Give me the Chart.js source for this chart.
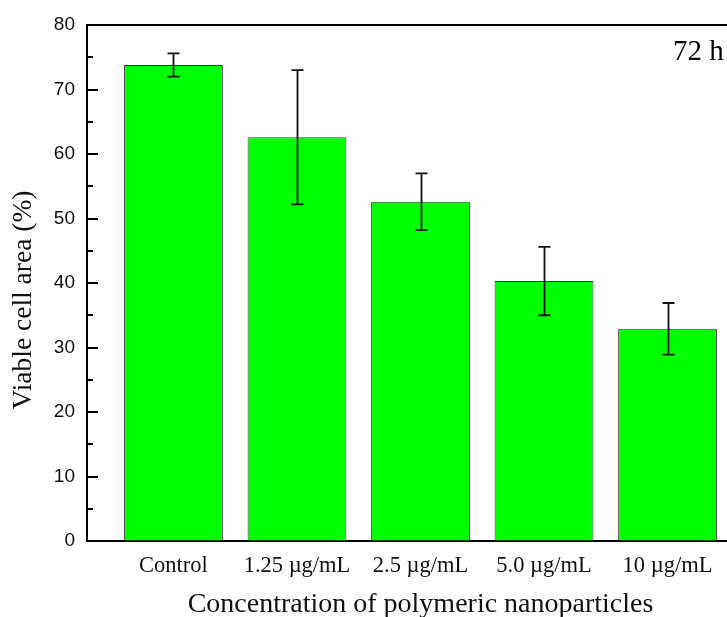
<!DOCTYPE html>
<html>
<head>
<meta charset="utf-8">
<script src="https://cdn.jsdelivr.net/npm/chart.js@4.4.1/dist/chart.umd.min.js"></script>
<style>
  html, body { margin: 0; padding: 0; background: #fff; overflow: hidden; }
  #wrap { position: relative; width: 760px; height: 617px; }
</style>
</head>
<body>
<div id="wrap"><canvas id="chart"></canvas></div>
<script>
// ----- Data -----
const categories = ["Control", "1.25 \u00b5g/mL", "2.5 \u00b5g/mL", "5.0 \u00b5g/mL", "10 \u00b5g/mL"];
const viableArea = [73.8, 62.6, 52.6, 40.3, 32.9];
const errors = [1.8, 10.4, 4.4, 5.3, 4.0];
const yTicks = [0, 10, 20, 30, 40, 50, 60, 70, 80];
const timeLabel = "72 h";

const serif = "'Liberation Serif', 'Times New Roman', serif";
const sans = "'Liberation Sans', Arial, sans-serif";

// ----- Plugins -----
// top frame line + inward tick marks on the y axis
const frameTicks = {
  id: "frameTicks",
  afterDraw(chart) {
    const { ctx, chartArea, scales } = chart;
    ctx.save();
    ctx.strokeStyle = "#000";
    ctx.lineWidth = 2;
    ctx.beginPath();
    ctx.moveTo(chartArea.left - 1, chartArea.top);
    ctx.lineTo(chartArea.right + 20, chartArea.top);
    ctx.stroke();
    scales.y.ticks.forEach((t) => {
      const y = Math.round(scales.y.getPixelForValue(t.value));
      const len = t.value % 10 === 0 ? 11 : 6;
      ctx.beginPath();
      ctx.moveTo(chartArea.left, y);
      ctx.lineTo(chartArea.left + len, y);
      ctx.stroke();
    });
    ctx.restore();
  },
};

// error bars
const errorBars = {
  id: "errorBars",
  afterDatasetsDraw(chart) {
    const { ctx, scales } = chart;
    ctx.save();
    ctx.strokeStyle = "#111";
    ctx.lineWidth = 1.8;
    viableArea.forEach((v, i) => {
      const x = Math.round(scales.x.getPixelForValue(i)) + 0.5;
      const yHi = scales.y.getPixelForValue(v + errors[i]);
      const yLo = scales.y.getPixelForValue(v - errors[i]);
      ctx.beginPath();
      ctx.moveTo(x, yHi);
      ctx.lineTo(x, yLo);
      ctx.moveTo(x - 6, yHi);
      ctx.lineTo(x + 6, yHi);
      ctx.moveTo(x - 6, yLo);
      ctx.lineTo(x + 6, yLo);
      ctx.stroke();
    });
    ctx.restore();
  },
};

// y title and time label
const labels = {
  id: "labels",
  afterDraw(chart) {
    const { ctx, chartArea } = chart;
    ctx.save();
    ctx.fillStyle = "#111";
    ctx.font = "27.5px " + serif;
    ctx.textAlign = "center";
    ctx.textBaseline = "middle";
    ctx.translate(24, (chartArea.top + chartArea.bottom) / 2 + 17);
    ctx.rotate(-Math.PI / 2);
    ctx.fillText("Viable cell area (%)", 0, 0);
    ctx.restore();

    ctx.save();
    ctx.fillStyle = "#000";
    ctx.font = "29px " + serif;
    ctx.textAlign = "left";
    ctx.textBaseline = "alphabetic";
    ctx.fillText(timeLabel, 673, 60);
    ctx.restore();
  },
};

// ----- Chart -----
new Chart(document.getElementById("chart"), {
  type: "bar",
  data: {
    datasets: [
      {
        data: viableArea.map((v, i) => ({ x: i, y: v })),
        backgroundColor: "#00ff00",
        borderColor: "#3a3a3a",
        borderWidth: 1,
        barPercentage: 0.8,
        categoryPercentage: 1,
      },
    ],
  },
  options: {
    responsive: true,
    maintainAspectRatio: false,
    animation: false,
    layout: { padding: { top: 25, right: 6, left: 0, bottom: 0 } },
    plugins: { legend: { display: false }, tooltip: { enabled: false } },
    scales: {
      x: {
        type: "linear",
        offset: false,
        min: -0.7,
        max: 4.7,
        afterBuildTicks: (s) => {
          s.ticks = categories.map((c, i) => ({ value: i }));
        },
        afterFit: (s) => {
          s.height = 76;
        },
        ticks: {
          callback: (v) => categories[v],
          font: { family: serif, size: 22.5 },
          color: "#111",
          padding: 12,
          maxRotation: 0,
          autoSkip: false,
        },
        grid: { drawOnChartArea: false, drawTicks: false, offset: false },
        border: { display: true, color: "#000", width: 2 },
        title: {
          display: true,
          text: "Concentration of polymeric nanoparticles",
          font: { family: serif, size: 28 },
          color: "#111",
          padding: { top: 0, bottom: -4 },
        },
      },
      y: {
        min: 0,
        max: 80,
        afterBuildTicks: (s) => {
          const t = [];
          for (let v = 0; v <= 80; v += 5) t.push({ value: v });
          s.ticks = t;
        },
        afterFit: (s) => {
          s.width = 87;
        },
        ticks: {
          callback: (v) => (yTicks.includes(v) ? String(v) : ""),
          font: { family: sans, size: 19 },
          color: "#111",
          padding: 12,
          autoSkip: false,
        },
        grid: { drawOnChartArea: false, drawTicks: false },
        border: { display: true, color: "#000", width: 2 },
      },
    },
  },
  plugins: [frameTicks, errorBars, labels],
});
</script>
</body>
</html>
